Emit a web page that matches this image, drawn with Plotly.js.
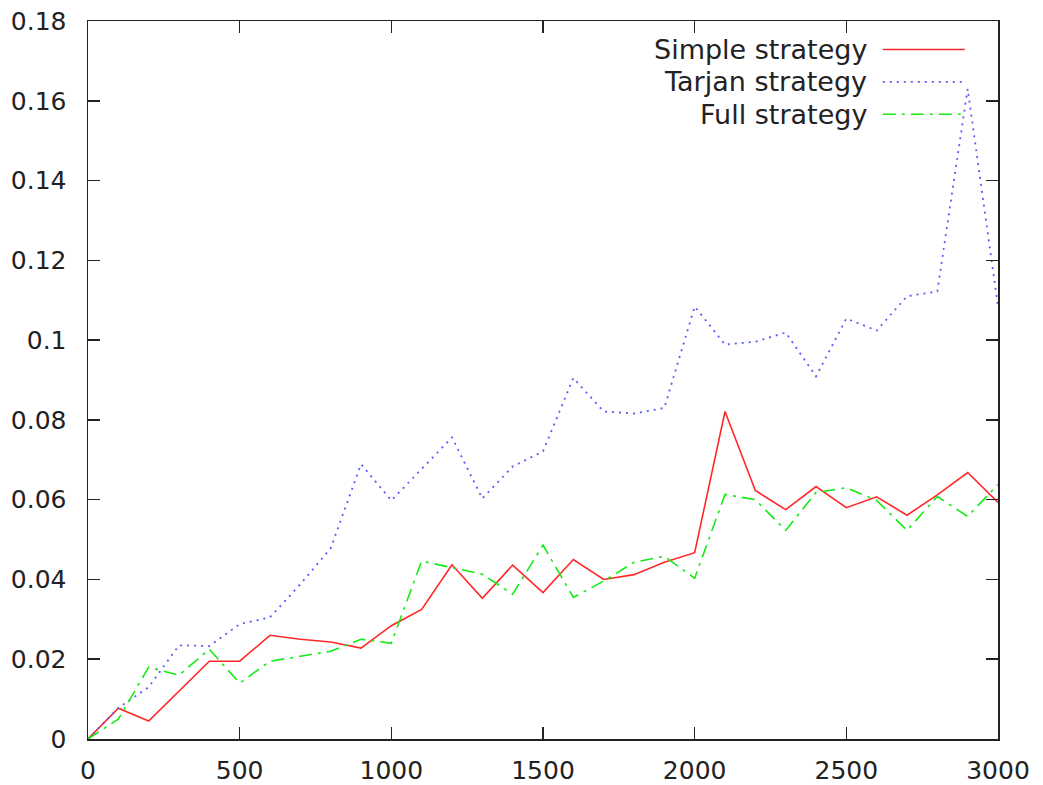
<!DOCTYPE html>
<html>
<head>
<meta charset="utf-8">
<script src="https://cdn.plot.ly/plotly-3.0.1.min.js"></script>
<style>html,body{margin:0;padding:0;background:#fff;}#chart{width:1043px;height:785px;}</style>
</head>
<body>
<div id="chart"></div>
<script>
const sizes = [0,100,200,300,400,500,600,700,800,900,1000,1100,1200,1300,1400,1500,1600,1700,1800,1900,2000,2100,2200,2300,2400,2500,2600,2700,2800,2900,3000];
const simpleStrategy = [0,0.0077,0.0045,0.012,0.0195,0.0195,0.026,0.025,0.0243,0.0228,0.0284,0.0325,0.0437,0.0353,0.0436,0.0367,0.045,0.040,0.0412,0.0443,0.0467,0.0821,0.0623,0.0575,0.0633,0.058,0.0607,0.0561,0.0612,0.0668,0.0593];
const tarjanStrategy = [0,0.0078,0.013,0.0235,0.0233,0.0288,0.0305,0.0388,0.0478,0.0689,0.0598,0.0678,0.0756,0.0603,0.0683,0.0721,0.0905,0.0821,0.0816,0.083,0.1084,0.0989,0.0996,0.1019,0.0909,0.1054,0.1024,0.111,0.1122,0.163,0.1084];
const fullStrategy = [0,0.005,0.018,0.016,0.0225,0.014,0.0195,0.0208,0.022,0.025,0.024,0.0446,0.043,0.0413,0.0363,0.0486,0.0355,0.0396,0.0443,0.0458,0.0403,0.0613,0.060,0.0523,0.0618,0.063,0.0598,0.0523,0.0608,0.0558,0.0638];
const seriesNames = ["Simple strategy","Tarjan strategy","Full strategy"];
const yTickVals = [0,0.02,0.04,0.06,0.08,0.1,0.12,0.14,0.16,0.18];
const yTickText = ["0","0.02","0.04","0.06","0.08","0.1","0.12","0.14","0.16","0.18"];
const xTickVals = [0,500,1000,1500,2000,2500,3000];
const xTickText = ["0","500","1000","1500","2000","2500","3000"];

const styles = [
  {color:"rgb(255,40,40)", dash:"solid", width:1.6},
  {color:"rgb(90,90,255)", dash:"2px,5px", width:1.8},
  {color:"rgb(20,235,20)", dash:"13px,6px,3px,6px", width:1.6}
];
const allY = [simpleStrategy, tarjanStrategy, fullStrategy];
const traces = allY.map((ys,i)=>({
  x: sizes, y: ys, type:"scatter", mode:"lines", name: seriesNames[i],
  line: {color: styles[i].color, dash: styles[i].dash, width: styles[i].width},
  showlegend:false, hoverinfo:"skip"
}));

const W = 1043, H = 785;
const m = {l:87.5, r:44.7, t:20.7, b:45.5};
const pw = W - m.l - m.r, ph = H - m.t - m.b;
const textRightPx = 869, lineX0 = 883, lineX1 = 965;
const rowY = [49.3, 81.7, 114];
const annotations = [], shapes = [];
rowY.forEach((py,i)=>{
  const yp = (H - m.b - py)/ph;
  annotations.push({xref:"paper", yref:"paper", x:(textRightPx - m.l)/pw, y:yp, xanchor:"right", yanchor:"middle",
    text: seriesNames[i], showarrow:false, font:{family:"DejaVu Sans", size:27, color:"#222"}});
  shapes.push({type:"line", xref:"paper", yref:"paper", x0:(lineX0 - m.l)/pw, x1:(lineX1 - m.l)/pw, y0:yp, y1:yp,
    line:{color: styles[i].color, dash: styles[i].dash, width: styles[i].width}});
});

const axisCommon = {
  showgrid:false, zeroline:false, showline:true, linecolor:"#222", linewidth:1.5,
  mirror:"ticks", ticks:"inside", ticklen:12, tickwidth:1.5, tickcolor:"#222",
  tickfont:{family:"DejaVu Sans", size:25, color:"#222"}, tickmode:"array"
};
const layout = {
  width:W, height:H, margin:m, paper_bgcolor:"#fff", plot_bgcolor:"#fff",
  font:{family:"DejaVu Sans", color:"#222"},
  xaxis: Object.assign({}, axisCommon, {range:[0,3000], tickvals:xTickVals, ticktext:xTickText, ticklabelstandoff:8}),
  yaxis: Object.assign({}, axisCommon, {range:[0,0.18], tickvals:yTickVals, ticktext:yTickText, ticklabelstandoff:15}),
  annotations, shapes, showlegend:false
};
Plotly.newPlot("chart", traces, layout, {displayModeBar:false, staticPlot:true});
</script>
</body>
</html>
